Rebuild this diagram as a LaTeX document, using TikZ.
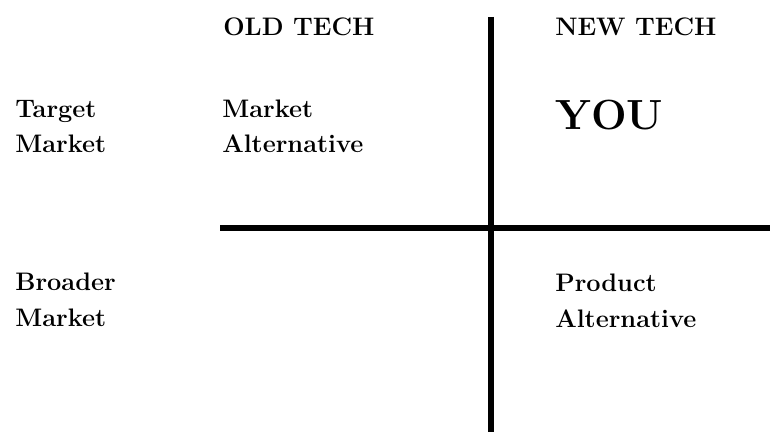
\documentclass[tikz,border=0pt]{standalone}
\usetikzlibrary{positioning}
\begin{document}
\begin{tikzpicture}[x=0.025cm, y=-0.025cm,
  lbl/.style={font=\fontsize{18}{25}\selectfont\bfseries, align=left,
    anchor=north west, inner sep=0pt},
  bar/.style={line width=4.8pt}]
\useasboundingbox (0,0) rectangle (770,432);
% column heads
\node[lbl] (oldtech) at (223,18) {OLD TECH};
\node[lbl] (newtech) at (555,18) {NEW TECH};
% row heads
\node[lbl] (target) at (15,100) {Target\\Market};
\node[lbl] (broader) at (15,273) {Broader\\Market};
% cells
\node[lbl] (mktalt) at (222,100) {Market\\Alternative};
\node[lbl, font=\fontsize{30}{30}\selectfont\bfseries] (you) at (555,100) {YOU};
\node[lbl] (prodalt) at (555,274) {Product\\Alternative};
% the cross
\coordinate (vtop) at (491,17);
\coordinate (vbot) at (491,432);
\coordinate (hleft) at (220,228);
\coordinate (hright) at (770,228);
\draw[bar] (vtop) -- (vbot);
\draw[bar] (hleft) -- (hright);
\end{tikzpicture}
\end{document}
